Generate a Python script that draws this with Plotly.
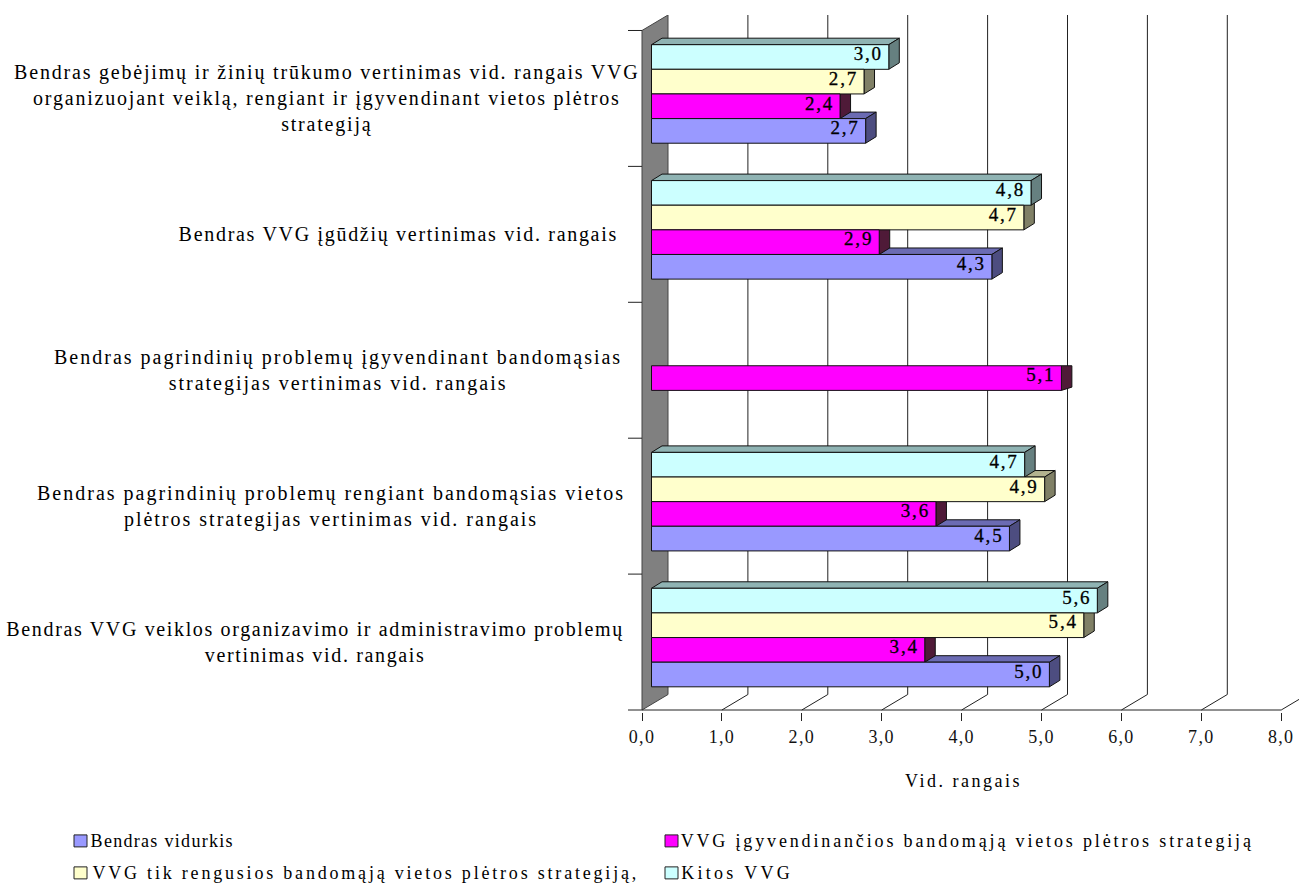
import plotly.graph_objects as go

categories = [
    "Bendras gebėjimų ir žinių trūkumo vertinimas vid. rangais VVG<br>organizuojant veiklą, rengiant ir įgyvendinant vietos plėtros<br>strategiją",
    "Bendras VVG įgūdžių vertinimas vid. rangais ",
    "Bendras pagrindinių problemų įgyvendinant bandomąsias<br>strategijas vertinimas vid. rangais",
    "Bendras pagrindinių problemų rengiant bandomąsias vietos<br>plėtros strategijas vertinimas vid. rangais",
    "Bendras VVG veiklos organizavimo ir administravimo problemų<br>vertinimas vid. rangais",
]
kitos = [2.97, 4.75, None, 4.67, 5.58]
rengusios = [2.66, 4.66, None, 4.92, 5.41]
igyvendinancios = [2.36, 2.85, 5.13, 3.56, 3.42]
vidurkis = [2.68, 4.26, None, 4.48, 4.98]
axis_ticks = [0, 1, 2, 3, 4, 5, 6, 7, 8]

names = ["Kitos VVG", "VVG tik rengusios bandomąją vietos plėtros strategiją,",
         "VVG įgyvendinančios bandomąją vietos plėtros strategiją", "Bendras vidurkis"]
series = [kitos, rengusios, igyvendinancios, vidurkis]
front = ["#CCFFFF", "#FFFFCC", "#FF00FF", "#9999FF"]
top = ["#8FB3B3", "#B3B38F", "#B300B3", "#6B6BB3"]
side = ["#668080", "#808066", "#4F1A38", "#4D4D80"]

FONT = "Liberation Serif"
PXX, PXY = 79.9, 136.0          # pixels per axis unit
WALL_X, WALL_Y = 26 / PXX, 15.5 / PXY
OFF_X, OFF_Y = 9.5 / PXX, 4.5 / PXY
DX, DY = 10.5 / PXX, 6.5 / PXY
BAR_H = 0.725 / 4
y_lo, y_hi = -0.5, 4.5
W, H = 1299, 886
L, R, T, B = 628, 0, 15, 173.5
x_range = [-14 / PXX, (W - 642) / PXX]
y_range = [y_hi + 2 / PXY, y_lo - WALL_Y]

fig = go.Figure()
line_col = "#222222"


def poly(xs, ys, fill, col="#111111"):
    fig.add_trace(go.Scatter(x=xs, y=ys, mode="lines", fill="toself", fillcolor=fill,
                             line=dict(color=col, width=1), showlegend=False, hoverinfo="skip"))


def rule(xs, ys, col=line_col):
    fig.add_trace(go.Scatter(x=xs, y=ys, mode="lines", line=dict(color=col, width=1),
                             showlegend=False, hoverinfo="skip"))


# side wall, grid lines, axis lines
poly([0, WALL_X, WALL_X, 0, 0], [y_hi, y_hi - WALL_Y, y_lo - WALL_Y, y_lo, y_hi], "#808080", col="#444444")
for t in axis_ticks[1:]:
    rule([t, t + WALL_X, t + WALL_X], [y_hi, y_hi - WALL_Y, y_lo - WALL_Y])
rule([x_range[0], 8], [y_hi, y_hi])
for b in [-0.5, 0.5, 1.5, 2.5, 3.5]:
    rule([x_range[0], 0], [b, b])

# top and side faces, painted bottom bar first
for s in [3, 2, 1, 0]:
    for i, v in enumerate(series[s]):
        if v is None:
            continue
        yt = i - OFF_Y - 2 * BAR_H + s * BAR_H
        yb = yt + BAR_H
        x0, x1 = OFF_X, OFF_X + v
        if s == 2 and series[1][i] is None:
            # the lone bar of the middle group has no visible top face in the original
            poly([x1, x1 + DX, x1 + DX, x1, x1], [yt, yt, yb - DY / 2, yb, yt], side[s])
        else:
            poly([x0, x0 + DX, x1 + DX, x1, x0], [yt, yt - DY, yt - DY, yt, yt], top[s])
            poly([x1, x1 + DX, x1 + DX, x1, x1], [yt, yt - DY, yb - DY, yb, yt], side[s])

# front faces
for s in range(4):
    fig.add_trace(go.Bar(
        y=[i - OFF_Y for i in range(5)], x=series[s], base=OFF_X, orientation="h", name=names[s],
        marker=dict(color=front[s], line=dict(color="#111111", width=1)),
        xaxis="x2", yaxis="y2", showlegend=False,
        hovertemplate="%{x:.1f}<extra>" + names[s] + "</extra>"))
# data labels
for s in range(4):
    xs, ys, txt = [], [], []
    for i, v in enumerate(series[s]):
        if v is None:
            continue
        xs.append(OFF_X + v - 6 / PXX)
        ys.append(i - OFF_Y - 2 * BAR_H + (s + 0.5) * BAR_H - 1.5 / PXY)
        txt.append(f"{v:.1f}".replace(".", ","))
    fig.add_trace(go.Scatter(x=xs, y=ys, text=txt, mode="text", textposition="middle left",
                             textfont=dict(family=FONT, size=19, color="#000000"),
                             xaxis="x2", yaxis="y2", showlegend=False, hoverinfo="skip"))


def pxf(x):
    return (x - L) / (W - L - R)


def py(y):
    return (H - B - y) / (H - B - T)


annotations = []
cat_center = [327, 401, 338, 331, 315]
for i, c in enumerate(categories):
    annotations.append(dict(text=c, x=pxf(cat_center[i]), xref="paper", xanchor="center", y=i, yref="y",
                            align="center", showarrow=False,
                            font=dict(family=FONT, size=20, color="#000000")))

legend_items = [(3, 74, 842, 162), (2, 665, 842, 967), (1, 74, 874, 365), (0, 665, 874, 737)]
shapes = []
for s, lx, ly, tc in legend_items:
    shapes.append(dict(type="rect", xref="paper", yref="paper", x0=pxf(lx), x1=pxf(lx + 13),
                       y0=py(ly + 5.5), y1=py(ly - 6.5), fillcolor=front[s],
                       line=dict(color="#222222", width=1)))
    annotations.append(dict(text=names[s], xref="paper", yref="paper", x=pxf(tc), y=py(ly),
                            xanchor="center", yanchor="middle", showarrow=False,
                            font=dict(family=FONT, size=18, color="#000000")))

fig.update_layout(
    width=W, height=H, margin=dict(l=L, r=R, t=T, b=B, pad=0),
    paper_bgcolor="white", plot_bgcolor="white", barmode="group", bargap=0.275, bargroupgap=0,
    separators=", ", showlegend=False, annotations=annotations, shapes=shapes,
    font=dict(family=FONT, size=18, color="#000000"),
    xaxis=dict(range=x_range, tickvals=axis_ticks, tickformat=".1f", ticks="outside", ticklen=8,
               tickcolor=line_col, showgrid=False, zeroline=False, showline=False,
               tickfont=dict(family=FONT, size=18, color="#111111"),
               title=dict(text="Vid. rangais", font=dict(family=FONT, size=18), standoff=28)),
    yaxis=dict(range=y_range, showticklabels=False, ticks="", showgrid=False, zeroline=False,
               showline=False),
    xaxis2=dict(overlaying="x", matches="x", visible=False),
    yaxis2=dict(overlaying="y", matches="y", visible=False),
)

rules = ["text{letter-spacing:1.3px}",
         ".textpoint text{letter-spacing:1.8px;stroke:#000;stroke-width:.3px}",
         ".xtitle{letter-spacing:2.5px}"]
for idx, sp in enumerate([1.8, 1.7, 2.0, 2.0, 1.65, 1.3, 2.85, 2.8, 3.3]):
    rules.append('.annotation[data-index="%d"] text{letter-spacing:%spx}' % (idx, sp))
css = ("var s=document.createElement('style');s.textContent=%r;document.head.appendChild(s);"
       "document.body.style.margin='0';Plotly.redraw('{plot_id}');" % "".join(rules))
fig.write_html("out.html", post_script=css, config={"displayModeBar": False})
